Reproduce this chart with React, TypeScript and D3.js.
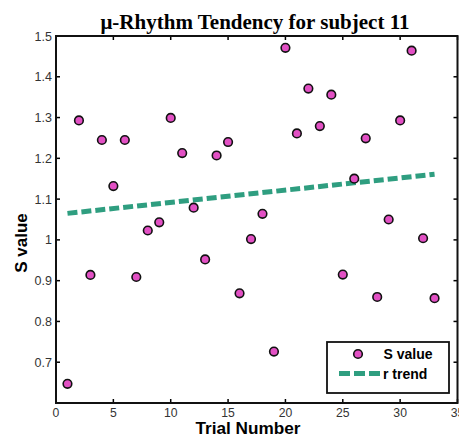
import React, { useRef, useEffect } from 'react';
import * as d3 from 'd3';

const TRIALS = d3.range(1, 34);
const S_VALUES = [
  0.647, 1.293, 0.914, 1.245, 1.132, 1.245, 0.909, 1.023, 1.043, 1.299,
  1.213, 1.079, 0.952, 1.207, 1.240, 0.869, 1.002, 1.064, 0.726, 1.471,
  1.261, 1.371, 1.279, 1.356, 0.915, 1.150, 1.249, 0.860, 1.050, 1.293,
  1.464, 1.004, 0.857,
];
const TREND_X = [1, 33];
const TREND_Y = [1.065, 1.161];
const X_TICKS = [0, 5, 10, 15, 20, 25, 30, 35];
const Y_TICKS = [0.7, 0.8, 0.9, 1, 1.1, 1.2, 1.3, 1.4, 1.5];

const W = 459;
const H = 438;
const M = { left: 56, right: 1.5, top: 36, bottom: 35 };
const DOT = '#e250c4';
const TEAL = '#2f9e80';

export default function App() {
  const svgRef = useRef<SVGSVGElement>(null);

  useEffect(() => {
    const svg = d3.select(svgRef.current);
    svg.selectAll('*').remove();

    const x = d3.scaleLinear().domain([0, 35]).range([M.left, W - M.right]);
    const y = d3.scaleLinear().domain([0.6, 1.5]).range([H - M.bottom, M.top]);
    const sans = 'Arial, "Liberation Sans", sans-serif';

    svg.append('rect')
      .attr('width', W).attr('height', H).attr('fill', '#fff');

    // title
    svg.append('text')
      .attr('x', 255).attr('y', 29)
      .attr('text-anchor', 'middle')
      .attr('font-family', '"Times New Roman", "Liberation Serif", serif')
      .attr('font-weight', 'bold')
      .attr('font-size', 21)
      .text('\u03bc-Rhythm Tendency for subject 11');

    const g = svg.append('g');

    // ticks (inward, all four sides)
    const tl = 4;
    X_TICKS.forEach(t => {
      g.append('line').attr('x1', x(t)).attr('x2', x(t))
        .attr('y1', y.range()[0]).attr('y2', y.range()[0] - tl)
        .attr('stroke', '#000').attr('stroke-width', 1.5);
      g.append('line').attr('x1', x(t)).attr('x2', x(t))
        .attr('y1', y.range()[1]).attr('y2', y.range()[1] + tl)
        .attr('stroke', '#000').attr('stroke-width', 1.5);
      g.append('text')
        .attr('x', x(t)).attr('y', y.range()[0] + 13.5)
        .attr('text-anchor', 'middle')
        .attr('font-family', sans).attr('font-size', 12.2).attr('fill', '#333')
        .text(t);
    });
    Y_TICKS.forEach(t => {
      g.append('line').attr('x1', x.range()[0]).attr('x2', x.range()[0] + tl)
        .attr('y1', y(t)).attr('y2', y(t))
        .attr('stroke', '#000').attr('stroke-width', 1.5);
      g.append('line').attr('x1', x.range()[1]).attr('x2', x.range()[1] - tl)
        .attr('y1', y(t)).attr('y2', y(t))
        .attr('stroke', '#000').attr('stroke-width', 1.5);
      g.append('text')
        .attr('x', x.range()[0] - 4).attr('y', y(t) + 4.5)
        .attr('text-anchor', 'end')
        .attr('font-family', sans).attr('font-size', 12.5).attr('fill', '#333')
        .text(d3.format('~g')(t));
    });

    // box
    g.append('rect')
      .attr('x', x.range()[0]).attr('y', y.range()[1])
      .attr('width', x.range()[1] - x.range()[0])
      .attr('height', y.range()[0] - y.range()[1])
      .attr('fill', 'none').attr('stroke', '#111').attr('stroke-width', 2);

    // trend
    const line = d3.line<number>()
      .x((d, i) => x(TREND_X[i]))
      .y(d => y(d));
    g.append('path')
      .attr('d', line(TREND_Y))
      .attr('fill', 'none').attr('stroke', TEAL)
      .attr('stroke-width', 5).attr('stroke-dasharray', '10,4');

    // points
    g.selectAll('circle.pt')
      .data(S_VALUES)
      .enter()
      .append('circle')
      .attr('class', 'pt')
      .attr('cx', (d, i) => x(TRIALS[i]))
      .attr('cy', d => y(d))
      .attr('r', 4.3)
      .attr('fill', DOT).attr('stroke', '#111').attr('stroke-width', 1.6);

    // axis labels
    svg.append('text')
      .attr('x', 248).attr('y', 434.3)
      .attr('text-anchor', 'middle')
      .attr('font-family', sans).attr('font-weight', 'bold').attr('font-size', 17.2)
      .text('Trial Number');
    svg.append('text')
      .attr('transform', 'translate(27,243) rotate(-90)')
      .attr('text-anchor', 'middle')
      .attr('font-family', sans).attr('font-weight', 'bold').attr('font-size', 17)
      .text('S value');

    // legend
    const lg = svg.append('g');
    lg.append('rect')
      .attr('x', 327).attr('y', 342).attr('width', 122).attr('height', 51)
      .attr('fill', '#fff').attr('stroke', '#111').attr('stroke-width', 1.8);
    lg.append('circle')
      .attr('cx', 358).attr('cy', 354).attr('r', 4.3)
      .attr('fill', DOT).attr('stroke', '#111').attr('stroke-width', 1.6);
    lg.append('line')
      .attr('x1', 339).attr('x2', 381).attr('y1', 373.5).attr('y2', 373.5)
      .attr('stroke', TEAL).attr('stroke-width', 5).attr('stroke-dasharray', '11,4');
    lg.append('text')
      .attr('x', 383.5).attr('y', 359)
      .attr('font-family', sans).attr('font-weight', 'bold').attr('font-size', 14)
      .text('S value');
    lg.append('text')
      .attr('x', 383).attr('y', 378.5)
      .attr('font-family', sans).attr('font-weight', 'bold').attr('font-size', 14)
      .text('r trend');
  }, []);

  return (
    <svg
      ref={svgRef}
      width={W}
      height={H}
      style={{ position: 'absolute', left: 0, top: 0, display: 'block' }}
    />
  );
}
